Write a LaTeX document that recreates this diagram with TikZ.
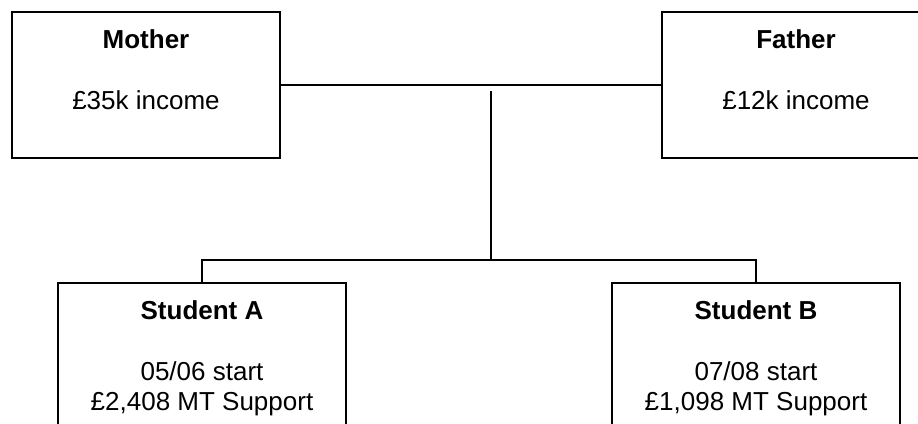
\documentclass[tikz,border=0pt]{standalone}
\usepackage{fontspec}
\setmainfont{Liberation Sans}
\usetikzlibrary{positioning}

\begin{document}
\begin{tikzpicture}[x=1pt,y=-1pt]

\tikzstyle{parent} = [rectangle, draw=black, line width=1.5pt, minimum width=268pt, minimum height=146pt, inner sep=0pt]
\tikzstyle{student} = [rectangle, draw=black, line width=1.5pt, minimum width=288pt, minimum height=146pt, inner sep=0pt]
\tikzstyle{boxtext} = [align=center, inner sep=0pt, font=\fontsize{26}{30}\selectfont]
\tikzstyle{link} = [line width=1.5pt]

\clip (0,0) rectangle (918,423);

\node (mother) [parent] at (146,85) {};
\node (father) [parent] at (796,85) {};
\node (studa) [student] at (202,356) {};
\node (studb) [student] at (756,356) {};

\node (mothertxt) [boxtext, below=18pt of mother.north] {\textbf{Mother}\\[31pt]£35k income};
\node (fathertxt) [boxtext, below=18pt of father.north] {\textbf{Father}\\[31pt]£12k income};
\node (studatxt) [boxtext, below=18pt of studa.north] {\textbf{Student A}\\[31pt]05/06 start\\£2,408 MT Support};
\node (studbtxt) [boxtext, below=18pt of studb.north] {\textbf{Student B}\\[31pt]07/08 start\\£1,098 MT Support};

\coordinate (drop) at (491,91);
\coordinate (fork) at (491,260);

\draw [link] (mother.east) -- (father.west);
\draw [link] (drop) -- (fork);
\draw [link] (studa.north) |- (fork) -| (studb.north);

\end{tikzpicture}
\end{document}
